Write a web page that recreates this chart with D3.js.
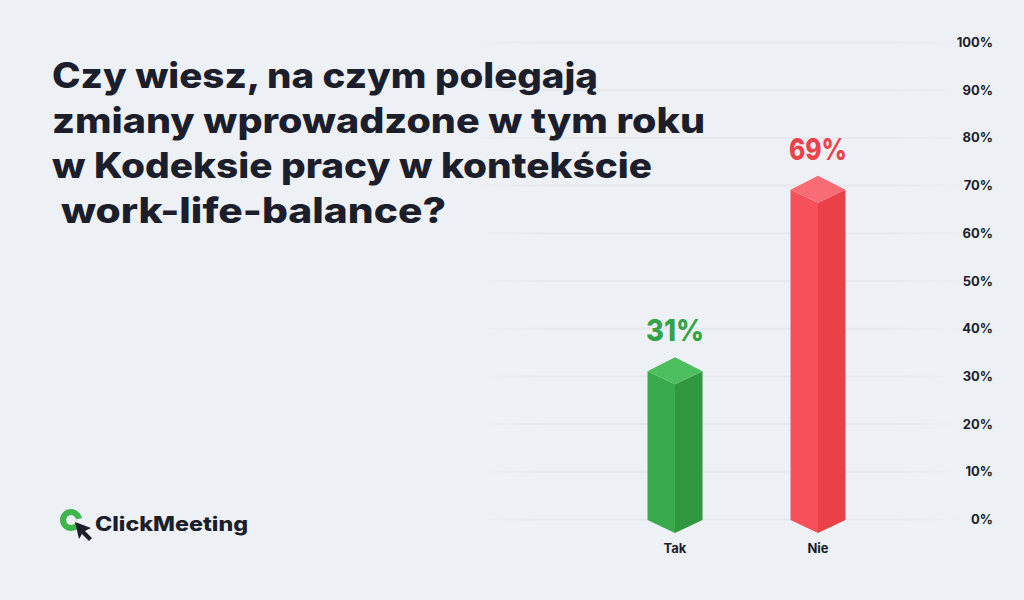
<!DOCTYPE html>
<html><head><meta charset="utf-8">
<script src="https://cdn.jsdelivr.net/npm/d3@7"></script>
<style>html,body{margin:0;padding:0;background:#edf0f5;}svg{display:block;}</style>
</head><body>
<svg id="c" width="1024" height="600"></svg>
<script>
const categories = ["Tak", "Nie"];
const values = [31, 69];
const tickValues = [0, 10, 20, 30, 40, 50, 60, 70, 80, 90, 100];
const tickLabels = ["0%", "10%", "20%", "30%", "40%", "50%", "60%", "70%", "80%", "90%", "100%"];
const valueLabels = ["31%", "69%"];
const titleLines = ["Czy wiesz, na czym polegają", "zmiany wprowadzone w tym roku", "w Kodeksie pracy w kontekście", " work-life-balance?"];
const brand = "ClickMeeting";

const palette = {
  Tak: {left: "#39aa4b", right: "#2f983e", top: "#4dbe5e", text: "#34a347"},
  Nie: {left: "#f6505a", right: "#ea4048", top: "#f86c75", text: "#ec424b"}
};
const FONT = "Inter, 'Open Sans', sans-serif";
const dark = "#1c1e2b";

const svg = d3.select("#c");
svg.append("rect").attr("width", 1024).attr("height", 600).attr("fill", "#edf0f5");

const defs = svg.append("defs");
const g = defs.append("linearGradient").attr("id", "gridg").attr("gradientUnits", "userSpaceOnUse")
  .attr("x1", 470).attr("x2", 965).attr("y1", 0).attr("y2", 0);
g.append("stop").attr("offset", 0).attr("stop-color", "#e5e8ee").attr("stop-opacity", 0);
g.append("stop").attr("offset", 0.15).attr("stop-color", "#e5e8ee").attr("stop-opacity", 1);
g.append("stop").attr("offset", 0.85).attr("stop-color", "#e5e8ee").attr("stop-opacity", 1);
g.append("stop").attr("offset", 1).attr("stop-color", "#e5e8ee").attr("stop-opacity", 0);

const y = d3.scaleLinear().domain([0, 100]).range([519, 42]);
const x = d3.scalePoint().domain(categories).range([675, 818]);
const halfW = 27.5, depth = 13;

// gridlines
svg.append("g").selectAll("line").data(tickValues).join("line")
  .attr("x1", 470).attr("x2", 965)
  .attr("y1", d => y(d) + 0.5).attr("y2", d => y(d) + 0.5)
  .attr("stroke", "url(#gridg)").attr("stroke-width", 2);

// y axis labels
const axis = d3.axisRight(y).tickValues(tickValues).tickFormat((d, i) => tickLabels[i]).tickSize(0);
const ag = svg.append("g").attr("transform", "translate(993,0)").call(axis);
ag.select(".domain").remove();
ag.selectAll("text").attr("text-anchor", "end").attr("x", 0).attr("dy", "0.35em")
  .attr("font-family", FONT).attr("font-weight", 700).attr("font-size", 13).attr("fill", dark);

// bars
const data = categories.map((c, i) => ({c, v: values[i], label: valueLabels[i]}));
const bars = svg.append("g").selectAll("g").data(data).join("g");
const pts = a => a.map(p => p.join(",")).join(" ");
bars.append("polygon").attr("fill", d => palette[d.c].left).attr("points", d => {
  const cx = x(d.c), yt = y(d.v), y0 = y(0) + 1;
  return pts([[cx - halfW, yt], [cx, yt + depth], [cx, y0 + depth], [cx - halfW, y0]]);
});
bars.append("polygon").attr("fill", d => palette[d.c].right).attr("points", d => {
  const cx = x(d.c), yt = y(d.v), y0 = y(0) + 1;
  return pts([[cx, yt + depth], [cx + halfW, yt], [cx + halfW, y0], [cx, y0 + depth]]);
});
bars.append("polygon").attr("fill", d => palette[d.c].top).attr("points", d => {
  const cx = x(d.c), yt = y(d.v);
  return pts([[cx - halfW, yt], [cx, yt - depth - 1], [cx + halfW, yt], [cx, yt + depth]]);
});
bars.append("text").attr("x", d => x(d.c)).attr("y", d => y(d.v) - 30)
  .attr("text-anchor", "middle").attr("font-family", FONT).attr("font-weight", 800)
  .attr("font-size", 30).attr("fill", d => palette[d.c].text)
  .attr("textLength", 58).attr("lengthAdjust", "spacingAndGlyphs").text(d => d.label);
bars.append("text").attr("x", d => x(d.c)).attr("y", 553)
  .attr("text-anchor", "middle").attr("font-family", FONT).attr("font-weight", 700)
  .attr("font-size", 13).attr("fill", dark).text(d => d.c);

// title
const titleWidths = [546, 653, 600, 388];
const tg = svg.append("g");
titleLines.forEach((t, i) => {
  tg.append("text").attr("x", 52).attr("y", 88 + i * 45)
    .attr("font-family", FONT).attr("font-weight", 800).attr("font-size", 35)
    .attr("fill", dark).attr("xml:space", "preserve")
    .attr("textLength", i === 3 ? titleWidths[i] + 6 : titleWidths[i]).attr("lengthAdjust", "spacingAndGlyphs")
    .text(t);
});

// logo
const lg = svg.append("g");
lg.append("path").attr("d", d3.arc()({innerRadius: 5, outerRadius: 11, startAngle: Math.PI * 0.72, endAngle: Math.PI * 2.45}))
  .attr("transform", "translate(71,520)").attr("fill", "#3db54a");
lg.append("path").attr("d", "M75,522 L91,528 L85,531 L92,538 L89,541 L82,534 L79,539 Z").attr("fill", dark);
lg.append("text").attr("x", 95).attr("y", 531).attr("font-family", FONT).attr("font-weight", 800)
  .attr("font-size", 20).attr("fill", dark).attr("textLength", 153).attr("lengthAdjust", "spacingAndGlyphs").text(brand);
</script>
</body></html>
